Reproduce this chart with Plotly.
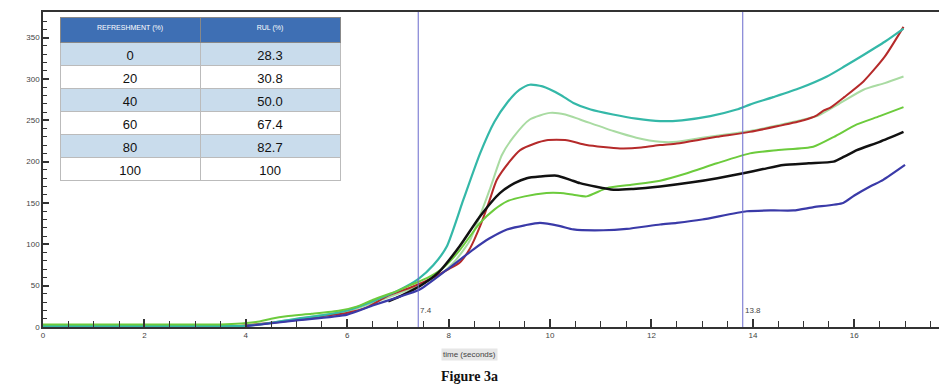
import plotly.graph_objects as go

# ---------------- data ----------------
teal_t = [0, 1, 2, 3, 4, 4.5, 5, 5.5, 6, 6.5, 7.0, 7.4, 7.7, 7.96, 8.29, 8.62, 8.9, 9.15, 9.4, 9.6, 9.85, 10.2, 10.46, 10.8, 11.24, 11.7, 12.17, 12.6, 13.16, 13.68, 13.94, 14.4, 14.93, 15.46, 15.8, 16.18, 16.6, 16.97]
teal_v = [1, 1, 1, 1, 1.5, 5, 10, 14, 20, 31, 44, 58, 75, 97, 154, 210, 248, 271, 287, 293, 291, 281, 271, 263, 257, 252, 249, 250, 255, 263, 269, 278, 289, 303, 315, 329, 345, 361]

lgreen_t = [4.2, 5, 6, 6.5, 7.0, 7.4, 7.8, 8.1, 8.42, 8.82, 9.05, 9.28, 9.6, 10.0, 10.3, 10.59, 11.25, 11.7, 12.17, 12.5, 13.0, 13.5, 13.94, 14.5, 15.0, 15.3, 15.7, 16.18, 16.6, 16.97]
lgreen_v = [2, 10, 19, 29, 40, 50, 62, 78, 105, 168, 208, 230, 251, 259, 257, 251, 237, 229, 224, 224, 229, 233, 237, 244, 251, 256, 270, 287, 295, 303]

red_t = [3.82, 4.5, 5.07, 5.5, 5.99, 6.4, 6.78, 7.3, 7.7, 8.0, 8.22, 8.42, 8.62, 8.8, 8.95, 9.2, 9.41, 9.7, 9.93, 10.33, 10.72, 11.38, 11.8, 12.17, 12.5, 13.0, 13.29, 13.94, 14.5, 15.0, 15.26, 15.4, 15.52, 15.8, 16.18, 16.6, 16.97]
red_v = [1, 5, 9, 13, 17, 24, 37, 49, 60, 70, 78, 95, 122, 152, 178, 200, 214, 222, 226, 226, 220, 216, 217, 220, 222, 227, 230, 236, 243, 250, 256, 262, 265, 278, 297, 327, 363]

green_t = [0, 1, 2, 3, 3.5, 4.2, 4.5, 4.8, 5.3, 5.86, 6.2, 6.51, 7.0, 7.3, 7.6, 7.9, 8.22, 8.62, 8.9, 9.15, 9.5, 9.93, 10.2, 10.46, 10.72, 11.12, 11.6, 12.17, 12.7, 13.29, 13.94, 14.5, 15.19, 15.6, 16.05, 16.5, 16.97]
green_v = [3, 3, 3, 3, 3, 6, 10, 13, 16, 20, 25, 33, 44, 52, 60, 72, 93, 126, 142, 152, 158, 162, 162, 160, 158, 168, 172, 177, 186, 198, 210, 214, 218, 230, 245, 255, 266]

black_t = [6.81, 7.1, 7.42, 7.8, 8.22, 8.62, 9.01, 9.3, 9.54, 9.8, 10.13, 10.4, 10.59, 11.25, 11.64, 12.17, 12.8, 13.3, 13.81, 14.2, 14.6, 15.1, 15.59, 15.8, 16.05, 16.5, 16.97]
black_v = [31, 39, 49, 66, 98, 134, 162, 174, 180, 182, 183, 178, 174, 166, 167, 170, 175, 180, 186, 191, 196, 198, 200, 206, 214, 224, 236]

blue_t = [4.0, 5, 6, 6.5, 7.0, 7.42, 7.96, 8.49, 8.8, 9.15, 9.5, 9.8, 10.2, 10.46, 11.05, 11.51, 12.17, 12.5, 13.0, 13.88, 14.4, 14.8, 15.2, 15.78, 16.0, 16.31, 16.57, 17.0]
blue_v = [1, 8, 15, 26, 36, 45, 69, 94, 107, 118, 123, 126, 122, 118, 117, 118.6, 124, 126, 130, 140, 141, 141, 145, 150, 159, 170, 178, 196]

refreshment = ["0", "20", "40", "60", "80", "100"]
rul = ["28.3", "30.8", "50.0", "67.4", "82.7", "100"]
table_header = ["REFRESHMENT (%)", "RUL (%)"]

markers_t = [7.4, 13.8]
marker_labels = ["7.4", "13.8"]

# ---------------- figure ----------------
fig = go.Figure()

series = [
    (lgreen_t, lgreen_v, "#a9dba2", 2),
    (red_t, red_v, "#b52a2a", 2),
    (teal_t, teal_v, "#34b8a8", 2.2),
    (green_t, green_v, "#6ccb3c", 2),
    (black_t, black_v, "#111111", 2.5),
    (blue_t, blue_v, "#3a3aa8", 2.2),
]
for t, v, c, w in series:
    fig.add_trace(go.Scatter(x=t, y=v, mode="lines",
                             line=dict(color=c, width=w, shape="spline", smoothing=0.6),
                             showlegend=False, hoverinfo="skip"))

row_fill = ["#c9dcec" if i % 2 == 0 else "#ffffff" for i in range(len(rul))]
fig.add_trace(go.Table(
    domain=dict(x=[0.019, 0.3315], y=[0.40, 0.984]),
    columnwidth=[140, 140],
    header=dict(values=table_header, fill_color="#3e6fb4",
                font=dict(color="white", size=7, family="Arial"),
                align="center", height=25, line=dict(color="#888888", width=1)),
    cells=dict(values=[refreshment, rul], fill_color=[row_fill, row_fill],
               font=dict(color="#111111", size=13, family="Arial"),
               align="center", height=23, line=dict(color="#bbbbbb", width=1)),
))

for xm, lab in zip(markers_t, marker_labels):
    fig.add_shape(type="line", xref="x", yref="paper", x0=xm, x1=xm, y0=0, y1=1,
                  line=dict(color="#6a6acc", width=1))
    fig.add_annotation(x=xm, xref="x", y=12, yref="y", text=lab, showarrow=False,
                       xanchor="left", yanchor="bottom", xshift=0,
                       font=dict(size=8, color="#444", family="Arial"))

fig.add_annotation(x=0.476, xref="paper", y=-0.087, yref="paper", text="time (seconds)",
                   showarrow=False, yanchor="middle", bgcolor="#e6e6e6",
                   font=dict(size=8, color="#444", family="Arial"), borderpad=1)
fig.add_annotation(x=0.476, xref="paper", y=-0.158, yref="paper", text="<b>Figure 3a</b>",
                   showarrow=False, yanchor="middle",
                   font=dict(size=14, color="#111", family="Liberation Serif"))

fig.update_layout(
    width=939, height=390,
    margin=dict(l=43, r=0, t=12, b=62.5),
    paper_bgcolor="white", plot_bgcolor="white",
    xaxis=dict(range=[0, 17.67], showgrid=False, zeroline=False,
               showline=True, linecolor="#333", linewidth=1.5, mirror=True,
               tickmode="array", tickvals=[0, 2, 4, 6, 8, 10, 12, 14, 16],
               ticks="inside", ticklen=8, tickwidth=1.5, tickcolor="#333",
               minor=dict(dtick=0.5, ticks="inside", ticklen=6, tickcolor="#333", tickwidth=1.2),
               tickfont=dict(size=8, color="#444", family="Arial")),
    yaxis=dict(range=[0, 381], showgrid=False, zeroline=False,
               showline=True, linecolor="#333", linewidth=1.5,
               tickmode="array", tickvals=[0, 50, 100, 150, 200, 250, 300, 350],
               ticks="inside", ticklen=6, tickwidth=1.5, tickcolor="#333",
               minor=dict(dtick=10, ticks="inside", ticklen=4, tickcolor="#333", tickwidth=1),
               tickfont=dict(size=8, color="#444", family="Arial")),
)

fig.write_html("out.html")
